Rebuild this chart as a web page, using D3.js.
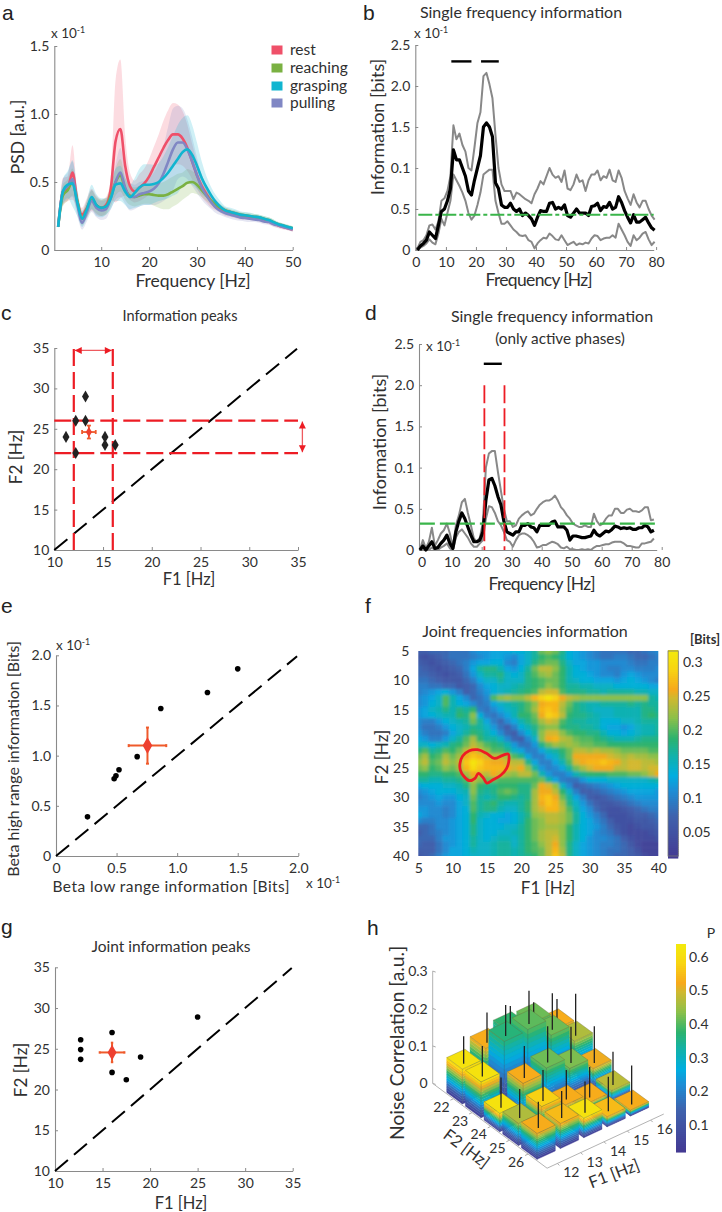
<!DOCTYPE html>
<html><head><meta charset="utf-8">
<style>html,body{margin:0;padding:0;background:#fff}svg{display:block}text{font-family:Lato,"Noto Sans",sans-serif;fill:#303030}</style>
<script src="https://cdn.jsdelivr.net/npm/d3@7"></script></head><body><script>
// ---------- data ----------
const psdHz=d3.range(1,51);
const psdRest=[.17,.43,.45,.57,.36,.26,.31,.37,.33,.31,.33,.45,.8,.89,.62,.47,.43,.46,.49,.54,.61,.68,.75,.81,.85,.85,.82,.75,.65,.55,.47,.41,.36,.33,.30,.28,.27,.26,.25,.245,.24,.235,.23,.22,.21,.195,.18,.17,.16,.15];
const psdReach=[.17,.40,.44,.50,.36,.23,.30,.37,.33,.31,.32,.40,.50,.55,.45,.40,.39,.40,.41,.41,.405,.40,.40,.41,.43,.45,.47,.495,.50,.48,.44,.40,.36,.33,.31,.29,.28,.27,.26,.255,.25,.245,.24,.23,.22,.205,.19,.18,.17,.16];
const psdGrasp=[.17,.43,.48,.49,.35,.23,.30,.39,.33,.31,.32,.38,.48,.49,.43,.39,.42,.46,.48,.48,.485,.50,.53,.57,.62,.67,.72,.74,.70,.62,.53,.46,.40,.35,.315,.29,.28,.27,.26,.255,.25,.245,.24,.23,.22,.205,.19,.18,.17,.16];
const psdPull=[.17,.43,.47,.52,.34,.20,.28,.36,.31,.29,.30,.38,.50,.57,.46,.39,.39,.41,.42,.43,.45,.49,.56,.65,.74,.79,.79,.74,.65,.55,.46,.40,.35,.31,.285,.27,.26,.25,.24,.235,.23,.225,.22,.21,.205,.19,.18,.17,.16,.15];
const sdRest=[.01,.1,.09,.2,.06,.05,.07,.08,.07,.06,.06,.08,.45,.51,.22,.1,.08,.1,.11,.13,.15,.17,.2,.22,.23,.22,.2,.17,.13,.1,.08,.06,.05,.04,.03,.03,.025,.025,.025,.02,.02,.02,.02,.02,.02,.02,.02,.02,.015,.015];
const sdReach=[.01,.08,.08,.1,.07,.05,.06,.07,.06,.06,.06,.08,.1,.12,.08,.07,.07,.07,.07,.07,.08,.09,.1,.11,.11,.11,.1,.1,.08,.07,.05,.04,.03,.03,.025,.02,.02,.02,.02,.02,.02,.02,.02,.02,.02,.02,.015,.015,.015,.015];
const sdGrasp=[.01,.09,.1,.17,.1,.06,.07,.09,.08,.07,.06,.08,.12,.13,.1,.09,.11,.14,.15,.15,.14,.14,.16,.19,.22,.25,.25,.25,.22,.17,.12,.08,.06,.05,.04,.03,.03,.03,.025,.025,.025,.02,.02,.02,.02,.02,.015,.015,.015,.015];
const sdPull=[.01,.09,.1,.13,.09,.05,.07,.08,.07,.07,.07,.08,.13,.18,.12,.1,.09,.09,.09,.1,.12,.15,.2,.26,.3,.27,.25,.22,.18,.13,.09,.07,.05,.04,.03,.03,.03,.03,.025,.025,.025,.02,.02,.02,.02,.02,.015,.015,.015,.015];
const psdNames=["rest","reaching","grasping","pulling"];
const psdColors=["#ef5069","#7ab142","#11b5d0","#8087c4"];

const infoHz=d3.range(.5,80.5);
const infoMean=[0,.05,.08,.12,.22,.18,.14,.3,.47,.5,.6,.75,1.22,1.1,1.1,1,.9,.72,.67,.85,1,1.15,1.5,1.55,1.5,1.38,.82,.75,.55,.52,.52,.57,.5,.47,.5,.42,.45,.42,.38,.3,.4,.48,.47,.47,.57,.58,.5,.52,.5,.55,.42,.4,.45,.5,.45,.45,.45,.42,.53,.54,.57,.48,.53,.52,.58,.5,.52,.65,.58,.48,.4,.33,.43,.34,.34,.37,.4,.33,.27,.24];
const infoUp=[.02,.1,.12,.18,.3,.31,.25,.35,.6,.63,.72,.9,1.52,1.35,1.42,1.28,1.2,1,.97,1.25,1.55,1.68,2.12,2.16,2.02,1.85,1.4,1,.8,.72,.72,.72,.62,.7,.68,.65,.62,.6,.57,.68,.75,.84,.8,.9,1,.92,.88,.9,.83,.97,.75,.73,.8,.92,.83,.85,.72,.85,.92,.92,.97,.85,.9,.88,.98,.85,.83,.97,.88,.72,.63,.55,.68,.58,.52,.6,.6,.5,.42,.37];
const infoLow=[0,.03,.05,.08,.13,.09,.07,.2,.38,.3,.45,.6,.92,.85,.78,.7,.6,.45,.37,.42,.55,.7,.92,.95,.98,.98,.6,.45,.32,.32,.35,.3,.25,.22,.18,.17,.18,.12,.1,.02,.08,.12,.15,.14,.2,.17,.13,.12,.18,.12,.06,.08,.1,.06,.08,.07,.09,.08,.14,.18,.17,.12,.14,.15,.15,.18,.15,.32,.25,.18,.1,.05,.18,.12,.15,.2,.22,.13,.06,.1];
const activeHz=d3.range(-.6,78.4);
const activeMean=[0,.05,0,.05,.1,.02,.03,.08,.12,.18,.08,.02,.22,.35,.45,.38,.28,.18,.1,.1,.12,.22,.6,.85,.87,.78,.65,.55,.35,.22,.2,.18,.22,.22,.3,.3,.32,.28,.27,.22,.3,.3,.3,.3,.34,.35,.28,.28,.28,.24,.12,.17,.17,.16,.15,.15,.16,.17,.24,.19,.17,.2,.23,.22,.25,.29,.28,.26,.27,.26,.27,.25,.25,.27,.27,.3,.28,.22,.24];
const activeUp=[0,.12,.02,.1,.27,.05,.12,.2,.24,.32,.2,.03,.3,.42,.58,.62,.45,.3,.14,.1,.15,.33,1,1.17,1.2,1.2,.95,.72,.5,.35,.35,.28,.3,.38,.42,.45,.47,.42,.44,.5,.55,.58,.6,.6,.62,.66,.6,.52,.48,.42,.38,.32,.3,.28,.28,.3,.28,.28,.44,.35,.3,.32,.38,.42,.42,.5,.5,.45,.45,.49,.5,.47,.47,.46,.48,.52,.52,.36,.37];
const activeLow=[0,.02,0,0,.03,0,0,.03,.05,.08,.02,0,.15,.22,.25,.2,.15,.08,.04,.04,.08,.12,.38,.53,.52,.45,.35,.3,.22,.12,.1,.04,.12,.18,.2,.2,.18,.15,.1,.03,.04,.06,.06,.08,.1,.09,.07,.03,.02,.04,.01,.01,0,0,.01,0,.01,0,.03,.05,.05,.06,.07,.07,.09,.1,.1,.1,.08,.05,.05,.04,.03,.03,.08,.08,.09,.1,.14];

const peakF1=[11.2,12.2,12.2,13.2,13.2,15.2,15.2,16.25];
const peakF2=[24,26,22,29,26,24,23,23];
const betaLow=[.26,.48,.495,.52,.67,.865,1.25,1.5];
const betaHigh=[.39,.77,.8,.86,.99,1.47,1.63,1.865];
const jointF1=[12.7,12.7,12.7,16,16,17.5,19,25];
const jointF2=[26.1,24.9,23.7,27,22.1,21.2,24,28.9];

const heatF1=d3.range(5,41), heatF2=d3.range(5,41);
const heatValues=[
[7,7,8,8,8,9,9,9,11,12,12,13,13,13,14,14,15,17,21,22,21,18,14,13,12,11,10,9,9,9,9,8,8,9,10,11],
[6,5,6,7,8,9,9,9,10,11,12,13,13,12,11,13,15,17,19,20,19,17,14,13,12,11,10,9,9,10,10,9,8,8,9,10],
[7,6,5,6,7,8,9,10,12,13,13,14,14,11,10,13,15,18,20,21,21,18,15,13,13,12,12,11,11,11,11,10,9,9,10,10],
[8,7,6,5,6,7,8,10,13,17,18,18,16,13,12,14,17,21,24,24,22,19,16,14,13,12,12,11,10,10,11,11,10,10,10,11],
[8,8,7,6,5,6,7,9,12,15,17,17,18,15,14,15,18,20,22,23,21,19,16,14,14,13,12,11,11,10,12,13,12,11,11,11],
[9,9,8,7,6,6,6,8,10,13,15,15,17,15,15,15,18,19,20,21,21,19,16,15,14,14,13,13,13,12,13,14,13,12,11,10],
[10,10,9,9,8,8,6,7,8,11,13,14,15,15,16,17,18,19,20,22,21,19,17,17,16,16,15,15,15,14,14,14,14,14,13,13],
[10,11,12,13,14,12,10,7,8,10,12,14,15,16,17,18,19,20,24,25,25,20,18,18,18,17,17,16,17,17,17,17,16,16,15,15],
[11,12,13,15,20,16,13,11,8,9,11,20,22,23,22,22,24,27,29,31,29,26,24,23,22,22,22,22,22,22,22,22,22,22,17,16],
[11,12,14,15,20,16,14,13,11,9,10,13,15,16,17,18,20,22,26,27,27,24,21,18,17,16,16,17,17,17,17,18,17,18,17,17],
[12,13,15,16,18,16,18,17,19,10,9,11,13,15,16,18,20,23,27,28,27,23,20,18,17,16,15,15,15,16,16,16,16,18,18,17],
[12,13,14,15,16,16,19,18,22,14,10,9,11,13,16,19,19,21,26,29,28,24,19,18,18,17,16,15,15,16,16,16,16,18,19,18],
[11,10,10,12,14,15,16,17,21,17,13,10,8,11,13,16,18,20,23,25,24,20,18,17,17,16,16,14,14,14,15,15,16,17,17,17],
[11,9,9,10,12,14,15,16,18,17,15,12,9,7,10,14,16,18,21,22,22,19,18,18,17,17,16,14,13,13,12,13,15,16,16,17],
[12,10,9,9,10,13,15,17,19,18,16,14,11,8,7,11,14,17,22,25,25,22,20,19,19,18,18,16,14,14,13,14,15,16,16,17],
[13,12,10,10,12,15,17,20,23,19,17,17,15,11,8,7,11,15,22,26,27,24,23,21,20,20,19,18,17,16,16,16,17,18,18,18],
[15,15,14,15,16,18,19,21,24,22,20,19,18,16,12,9,9,12,18,21,23,22,23,22,21,21,20,20,19,19,19,19,19,19,19,19],
[18,20,17,18,20,19,21,24,26,24,22,20,20,18,15,13,10,10,13,16,17,19,21,24,24,23,24,23,23,22,21,21,21,21,20,20],
[21,23,19,20,23,21,23,26,28,27,25,24,24,23,20,18,13,10,10,13,15,18,21,26,26,26,26,26,25,24,23,24,23,23,22,22],
[22,24,20,21,24,22,24,28,31,29,27,26,26,25,24,24,18,13,10,10,13,16,20,25,26,27,27,28,27,26,24,25,25,24,24,23],
[21,22,19,20,22,21,23,27,30,28,27,27,27,26,25,26,22,17,12,10,11,13,17,21,23,25,26,26,26,24,24,25,25,24,25,25],
[19,19,18,18,19,19,20,23,26,25,24,26,25,23,22,24,24,21,16,12,10,10,12,16,18,19,19,19,20,20,20,21,21,22,24,26],
[17,17,16,16,17,17,18,20,24,22,21,21,20,20,20,20,20,20,21,17,13,10,9,9,12,14,14,14,15,15,15,15,15,15,16,17],
[13,14,14,14,15,15,16,18,22,19,18,18,19,19,19,18,18,21,26,25,22,15,11,7,8,9,10,11,12,13,14,14,14,14,14,14],
[11,12,13,14,14,14,15,16,22,18,17,18,20,21,20,18,18,23,26,26,24,19,15,10,7,7,8,9,10,11,12,13,13,13,13,12],
[10,11,12,13,12,12,14,15,21,17,16,17,19,19,18,17,18,23,27,28,26,21,17,13,10,7,6,7,8,9,10,11,12,12,12,12],
[11,11,11,12,11,11,13,15,20,17,18,19,17,16,16,17,19,23,26,28,27,23,18,15,12,9,7,6,6,7,8,9,10,11,11,11],
[12,12,11,11,10,11,13,14,20,17,18,18,16,15,15,17,19,23,25,27,27,24,20,16,13,11,8,6,5,5,6,7,8,9,10,10],
[13,12,11,11,10,11,13,14,19,16,15,14,14,13,14,16,18,22,23,24,24,23,21,17,14,12,10,8,5,5,5,6,7,7,8,9],
[11,10,10,11,11,12,13,14,19,15,14,14,13,13,14,16,19,21,22,24,24,23,21,17,14,13,11,9,7,5,5,5,6,6,7,8],
[8,8,9,11,11,12,13,14,18,15,14,14,14,15,15,17,19,21,22,23,23,22,19,16,14,13,12,10,8,6,5,4,5,6,6,7],
[7,8,9,10,11,12,13,14,18,15,14,14,15,15,16,17,19,21,23,24,24,22,19,16,14,13,11,10,9,7,5,4,4,4,5,6],
[8,8,8,10,12,12,13,14,17,15,14,15,16,16,15,17,19,21,23,24,25,22,19,16,14,12,11,11,10,9,7,5,4,4,4,5],
[8,7,7,9,11,12,13,14,17,15,15,16,17,17,15,17,19,20,22,24,26,22,18,15,13,12,11,10,10,9,8,6,4,3,3,3],
[7,7,7,9,11,13,13,14,16,15,15,16,17,17,16,17,19,20,21,24,27,23,18,15,13,12,11,10,9,9,8,7,5,3,3,3],
[6,7,8,10,12,13,13,14,15,15,15,16,17,17,16,17,18,19,21,24,28,24,18,15,13,12,11,10,9,8,8,7,6,4,3,3]];
const contourF1=[11.08,11.47,12.44,13.65,14.87,16.08,17.3,18.13,18.22,17.88,17.06,15.84,14.99,14.53,13.75,13.26,12.44,11.61,11.13];
const contourF2=[24.18,22.93,22.02,21.85,22.42,23.33,22.81,22.59,23.61,25.03,26.17,27.03,27.54,26.74,25.89,26.74,27.14,26.34,25.32];
const cmapStops=[0,.2,.33,.4,.5,.58,.68,.78,.82,.92,1];
const cmapColors=["#443a93","#3f62ad","#1c8fd6","#00aee0","#13b2a8","#2cb36f","#8cc04a","#d2b82f","#f7a91c","#f8d512","#f3e80c"];

const noiseF1=[12,13,14,15,16], noiseF2=[22,23,24,25,26];
const noiseHeight=[[.093,.12,.135,.13,.085],[.096,.175,.178,.134,.089],[.049,.10,.112,.082,.053],[.059,.075,.05,.027,.031],[.069,.067,.052,.027,.016]];
const noiseP=[[.62,.53,.38,.42,.53],[.62,.37,.41,.42,.47],[.62,.53,.42,.43,.52],[.47,.58,.53,.53,.48],[.53,.55,.62,.55,.53]];
const noiseErr=[[.061,.069,.042,.028,.053],[.069,.071,.077,.085,.1],[.069,.073,.085,.085,.086],[.065,.071,.067,.069,.077],[.058,.06,.071,.08,.092]];

// ---------- helpers ----------
const svg=d3.select("body").append("svg").attr("width",722).attr("height",1212);
const AX="#8a8a8a",TXT="#303030",RED="#ed1c24",ORG="#ef5a2b";
function T(s,x,y,size,o={}){
  const t=svg.append("text").attr("x",x).attr("y",y).attr("font-size",size).attr("text-anchor",o.anchor||"middle");
  if(o.weight)t.attr("font-weight",o.weight);
  if(o.len)t.attr("textLength",o.len);
  if(o.rot!==undefined)t.attr("transform",`rotate(${o.rot} ${x} ${y})`);
  t.text(s);return t;
}
function L(s,x,y){ // panel letter
  svg.append("text").attr("x",x).attr("y",y).attr("font-size",21).style("font-family","'Liberation Sans'").style("fill","#222").text(s);
}
function sci(x,y,size=13.5){
  const t=svg.append("text").attr("x",x).attr("y",y).attr("font-size",size);
  t.append("tspan").text("x 10");
  t.append("tspan").attr("dy",-5).attr("font-size",size*.65).text("-1");
}
function axes(x,y,xt,yt,xf,yf,size=13.5,pad=7){
  const fx=d=>xf?xf(d):d, fy=d=>yf?yf(d):d;
  const gx=svg.append("g").attr("transform",`translate(0,${y.range()[0]})`)
    .call(d3.axisBottom(x).tickValues(xt).tickFormat(fx).tickSizeInner(-3).tickSizeOuter(0).tickPadding(pad));
  const gy=svg.append("g").attr("transform",`translate(${x.range()[0]},0)`)
    .call(d3.axisLeft(y).tickValues(yt).tickFormat(fy).tickSizeInner(-3).tickSizeOuter(0).tickPadding(5));
  [gx,gy].forEach(g=>{
    g.selectAll("path").attr("stroke",AX).attr("stroke-width",1.1);
    g.selectAll("line").attr("stroke",AX);
    g.selectAll("text").attr("font-size",size).attr("font-family","Lato").attr("fill",TXT);
  });
  return [gx,gy];
}
const fmt1=d=>d===0?"0":d3.format(".1f")(d);
function errMark(x,y,cx,cy,ex,ey,r,cap,w=1.8){
  const g=svg.append("g").attr("stroke",ORG).attr("stroke-width",w);
  g.append("line").attr("x1",x(cx-ex)).attr("x2",x(cx+ex)).attr("y1",y(cy)).attr("y2",y(cy));
  g.append("line").attr("x1",x(cx)).attr("x2",x(cx)).attr("y1",y(cy-ey)).attr("y2",y(cy+ey));
  [[cx-ex,cy,0,cap],[cx+ex,cy,0,cap],[cx,cy-ey,cap,0],[cx,cy+ey,cap,0]].forEach(c=>
    g.append("line").attr("x1",x(c[0])-c[2]).attr("x2",x(c[0])+c[2]).attr("y1",y(c[1])-c[3]).attr("y2",y(c[1])+c[3]));
  svg.append("path").attr("d",d3.symbol(d3.symbolDiamond,r)()).attr("fill","#ee4030")
    .attr("transform",`translate(${x(cx)},${y(cy)})`);
}
function diag(x,y,a,b){
  svg.append("line").attr("x1",x(a)).attr("y1",y(a)).attr("x2",x(b)).attr("y2",y(b))
    .attr("stroke","#000").attr("stroke-width",2).attr("stroke-dasharray","17 8");
}
const cmap=d3.scaleLinear().domain(cmapStops).range(cmapColors).clamp(true);
function colorbar(x0,x1,y0,y1,ticks,lo,hi,fmt,lab,size=14){
  const s=d3.scaleLinear().domain([lo,hi]).range([y0,y1]);
  const vals=d3.range(0,1.0001,1/100);
  svg.append("g").selectAll("rect").data(vals).join("rect")
    .attr("x",x0).attr("width",x1-x0)
    .attr("y",d=>y0+(y1-y0)*(d)-1).attr("height",Math.abs(y1-y0)/100+1.5)
    .attr("fill",d=>cmap(d));
  ticks.forEach(t=>T(fmt(t),lab,s(t)+5,size,{anchor:"start"}));
  return s;
}

// ---------- a ----------
{
  const x=d3.scaleLinear().domain([.2,50]).range([54.3,292.7]);
  const y=d3.scaleLinear().domain([0,1.5]).range([250,46]);
  const rows=[[psdRest,sdRest,0],[psdReach,sdReach,1],[psdPull,sdPull,3],[psdGrasp,sdGrasp,2]];
  const area=(m,s)=>d3.area().x((d,i)=>x(psdHz[i])).y0((d,i)=>y(Math.max(0,m[i]-s[i]))).y1((d,i)=>y(m[i]+s[i])).curve(d3.curveMonotoneX)(m);
  rows.forEach(r=>svg.append("path").attr("d",area(r[0],r[1])).attr("fill",psdColors[r[2]]).attr("fill-opacity",.2));
  axes(x,y,[10,20,30,40,50],[0,.5,1,1.5],null,fmt1,14);
  const line=m=>d3.line().x((d,i)=>x(psdHz[i])).y(d=>y(d)).curve(d3.curveMonotoneX)(m);
  rows.forEach(r=>svg.append("path").attr("d",line(r[0])).attr("fill","none").attr("stroke",psdColors[r[2]]).attr("stroke-width",2.6));
  psdNames.forEach((n,i)=>{
    const ly=[50,68,86,103][i];
    svg.append("rect").attr("x",271.5).attr("y",ly-4.5).attr("width",11).attr("height",9).attr("fill",psdColors[i]);
    T(n,290,ly+5,15.5,{anchor:"start"});
  });
  sci(51,38);
  T("Frequency [Hz]",193,287,17.5,{len:115});
  T("PSD [a.u.]",24,137,17.5,{rot:-90});
  L("a",2,19.5);
}
// ---------- b ----------
function infoPanel(o){
  const x=o.x,y=o.y;
  axes(x,y,d3.range(0,81,10),[0,.5,1,1.5,2,2.5],null,d=>({0:"0",.5:"0.5",1:"0.1",1.5:"1.5",2:"2.0",2.5:"2.5"})[d],14);
  const line=m=>d3.line().x((d,i)=>x(o.hz[i])).y(d=>y(d))(m);
  [o.up,o.low].forEach(m=>svg.append("path").attr("d",line(m)).attr("fill","none").attr("stroke","#888").attr("stroke-width",2).attr("stroke-linejoin","round"));
  svg.append("path").attr("d",line(o.mean)).attr("fill","none").attr("stroke","#000").attr("stroke-width",3.2).attr("stroke-linejoin","round");
  svg.append("line").attr("x1",x(o.g0)).attr("x2",x(o.g1)).attr("y1",y(o.gy)).attr("y2",y(o.gy))
    .attr("stroke","#3ab54a").attr("stroke-width",2.2).attr("stroke-dasharray",o.gd);
  o.bars.forEach(b=>svg.append("line").attr("x1",x(b[0])).attr("x2",x(b[1])).attr("y1",y(o.by)).attr("y2",y(o.by)).attr("stroke","#000").attr("stroke-width",2.4));
}
infoPanel({x:d3.scaleLinear().domain([-.2,79.2]).range([415.3,653.7]),y:d3.scaleLinear().domain([0,2.5]).range([250,45]),
  hz:infoHz,mean:infoMean,up:infoUp,low:infoLow,g0:.8,g1:79.2,gy:.43,gd:"14 3 4 3",by:2.3,bars:[[11.8,18.5],[21.7,27.6]]});
sci(414,38);
T("Single frequency information",521,18,16);
T("Frequency [Hz]",539,286,17.5,{len:107});
T("Information [bits]",384,127,18,{rot:-90});
L("b",363,19.5);
// ---------- c ----------
{
  const x=d3.scaleLinear().domain([10,35]).range([54.3,298]);
  const y=d3.scaleLinear().domain([10,35]).range([550,348]);
  axes(x,y,[10,15,20,25,30,35],[10,15,20,25,30,35],null,null,14);
  diag(x,y,10,34.9);
  const rd=svg.append("g").attr("stroke",RED).attr("stroke-width",2.2).attr("stroke-dasharray","17 6");
  [12,16].forEach(v=>rd.append("line").attr("x1",x(v)).attr("x2",x(v)).attr("y1",y(10)).attr("y2",y(34.9)));
  [26,22].forEach(v=>rd.append("line").attr("x1",x(10)).attr("x2",x(35)).attr("y1",y(v)).attr("y2",y(v)));
  svg.append("g").selectAll("path").data(peakF1).join("path").attr("d",d3.symbol(d3.symbolDiamond,42)())
    .attr("fill","#222").attr("transform",(d,i)=>`translate(${x(d)},${y(peakF2[i])})`);
  errMark(x,y,13.55,24.6,.7,.8,32,2);
  const arrow=(x1,y1,x2,y2)=>{
    svg.append("line").attr("x1",x1).attr("y1",y1).attr("x2",x2).attr("y2",y2).attr("stroke","#ee5a5f").attr("stroke-width",1.3);
    const a=Math.atan2(y2-y1,x2-x1)*180/Math.PI;
    [[x1,y1,a+180],[x2,y2,a]].forEach(p=>svg.append("path").attr("d","M0,0L-7,-3.5L-7,3.5Z").attr("fill",RED).attr("transform",`translate(${p[0]},${p[1]}) rotate(${p[2]})`));
  };
  arrow(x(12.1),y(34.7),x(15.9),y(34.7));
  arrow(x(35.45),y(25.9),x(35.45),y(22.1));
  T("Information peaks",180,321,14.5);
  T("F1 [Hz]",189,585,16.5);
  T("F2 [Hz]",22,457,17,{rot:-90});
  L("c",1,320);
}
// ---------- d ----------
{
  const x=d3.scaleLinear().domain([-.89,78.33]).range([419,656.7]);
  const y=d3.scaleLinear().domain([0,2.5]).range([550,344]);
  infoPanel({x,y,hz:activeHz,mean:activeMean,up:activeUp,low:activeLow,g0:-.6,g1:78.33,gy:.32,gd:"15 5",by:2.26,bars:[[20.7,26.7]]});
  const rd=svg.append("g").attr("stroke",RED).attr("stroke-width",1.8).attr("stroke-dasharray","18 5");
  [20.9,27.6].forEach(v=>rd.append("line").attr("x1",x(v)).attr("x2",x(v)).attr("y1",y(2)).attr("y2",y(0)));
  sci(426,351);
  T("Single frequency information",552,322,16);
  T("(only active phases)",560,344,15.3);
  T("Frequency [Hz]",542,590,17.5,{len:107});
  T("Information [bits]",386,442,18,{rot:-90});
  L("d",365,320);
}
// ---------- e ----------
{
  const x=d3.scaleLinear().domain([0,2]).range([56,298.3]);
  const y=d3.scaleLinear().domain([0,2]).range([856,655.3]);
  axes(x,y,[0,.5,1,1.5,2],[0,.5,1,1.5,2],fmt1,fmt1,14);
  diag(x,y,0,1.99);
  svg.append("g").selectAll("circle").data(betaLow).join("circle").attr("cx",d=>x(d)).attr("cy",(d,i)=>y(betaHigh[i])).attr("r",2.8).attr("fill","#000");
  errMark(x,y,.755,1.1,.155,.18,80,1.5,2);
  sci(56,650);sci(306,888);
  T("Beta low range information [Bits]",171,892,15.5,{len:237});
  T("Beta high range information [Bits]",19,759,16,{rot:-90});
  L("e",1,613);
}
// ---------- f ----------
{
  const x=d3.scaleLinear().domain([5,40]).range([418.3,658.3]);
  const y=d3.scaleLinear().domain([5,40]).range([651,856]);
  const frac=d3.scaleLinear().domain([.015,.316]).range([0,1]);
  const defs=svg.append("defs");
  defs.append("clipPath").attr("id","hc").append("rect").attr("x",x(5)).attr("y",y(5)).attr("width",x(40)-x(5)).attr("height",y(40)-y(5));
  defs.append("filter").attr("id","hb").attr("x","-10%").attr("y","-10%").attr("width","120%").attr("height","120%")
    .append("feGaussianBlur").attr("stdDeviation",1.8);
  const dx=(x(6)-x(5))/2, dy=(y(6)-y(5))/2, ext=14;
  const inner=svg.append("g").attr("clip-path","url(#hc)").append("g").attr("filter","url(#hb)");
  heatValues.forEach((row,ri)=>row.forEach((v,ci)=>{
    const l=x(heatF1[ci])-dx-(ci===0?ext:0), r=x(heatF1[ci])+dx+(ci===35?ext:0)+.5;
    const t=y(heatF2[ri])-dy-(ri===0?ext:0), b=y(heatF2[ri])+dy+(ri===35?ext:0)+.5;
    inner.append("rect").attr("x",l).attr("y",t).attr("width",r-l).attr("height",b-t).attr("fill",cmap(frac(v/100)));
  }));
  svg.append("path").attr("d",d3.line().x(d=>x(d)).y((d,i)=>y(contourF2[i])).curve(d3.curveCatmullRomClosed.alpha(.5))(contourF1))
    .attr("fill","none").attr("stroke",RED).attr("stroke-width",2.8);
  const gx=svg.append("g").attr("transform",`translate(0,856)`).call(d3.axisBottom(x).tickValues(d3.range(5,41,5)).tickSize(0).tickPadding(7));
  const gy=svg.append("g").attr("transform",`translate(418.3,0)`).call(d3.axisLeft(y).tickValues(d3.range(5,41,5)).tickSize(0).tickPadding(9));
  [gx,gy].forEach(g=>{g.select("path").remove();g.selectAll("text").attr("font-size",14).attr("font-family","Lato").attr("fill",TXT);});
  colorbar(668,678.3,856,651,[.05,.1,.15,.2,.25,.3],.015,.316,d=>d+"",683);
  svg.append("rect").attr("x",668).attr("y",651).attr("width",10.3).attr("height",205).attr("fill","none").attr("stroke","#777").attr("stroke-width",.8);
  T("Joint frequencies information",525,637,16);
  T("[Bits]",705,644,13,{weight:700});
  T("F1 [Hz]",548,894,17);
  T("F2 [Hz]",388,757,17,{rot:-90});
  L("f",365,613);
}
// ---------- g ----------
{
  const x=d3.scaleLinear().domain([10,35]).range([55,292.7]);
  const y=d3.scaleLinear().domain([10,35]).range([1171,967.3]);
  axes(x,y,[10,15,20,25,30,35],[10,15,20,25,30,35],null,null,14);
  diag(x,y,10,34.9);
  svg.append("g").selectAll("circle").data(jointF1).join("circle").attr("cx",d=>x(d)).attr("cy",(d,i)=>y(jointF2[i])).attr("r",2.8).attr("fill","#000");
  errMark(x,y,16,24.55,1.3,1.2,70,1.2,2);
  T("Joint information peaks",171,952,15.5);
  T("F1 [Hz]",181,1209,16.5);
  T("F2 [Hz]",27,1070,17,{rot:-90});
  L("g",1,934);
}
// ---------- h ----------
{
  const ux=d3.scaleLinear().domain([12,16]).range([0,93.33]), uy=d3.scaleLinear().domain([12,16]).range([0,-43.33]);
  const vx=d3.scaleLinear().domain([26,22]).range([0,-74.67]), vy=d3.scaleLinear().domain([26,22]).range([0,-55.33]);
  const zs=d3.scaleLinear().domain([0,.3]).range([0,-112.33]);
  const P=(a,b,z=0)=>[538.33+ux(a)+vx(b),1149.33+uy(a)+vy(b)+zs(z)];
  const pts=a=>a.map(p=>p.join(",")).join(" ");
  const g=svg.append("g");
  const O=P(11.56,20.89),F=P(11.56,27.02),R=P(16.56,27.02);
  const axs=[[O,F],[F,R],[O,[O[0],zs(.3)+O[1]]]];
  axs.forEach(a=>g.append("line").attr("x1",a[0][0]).attr("y1",a[0][1]).attr("x2",a[1][0]).attr("y2",a[1][1]).attr("stroke","#aaa").attr("stroke-width",.9));
  [0,.1,.2,.3].forEach(t=>{
    g.append("line").attr("x1",O[0]).attr("x2",O[0]+3).attr("y1",O[1]+zs(t)).attr("y2",O[1]+zs(t)+1).attr("stroke","#aaa");
    T(t===0?"0":t.toFixed(1),O[0]-5,O[1]+zs(t)+5,14,{anchor:"end"});
  });
  noiseF2.forEach(b=>{const p=P(11.56,b);g.append("line").attr("x1",p[0]).attr("y1",p[1]).attr("x2",p[0]-3).attr("y2",p[1]+1.4).attr("stroke","#aaa");
    T(b,p[0]-12,p[1]+13,14);});
  noiseF1.forEach(a=>{const p=P(a,27.02);g.append("line").attr("x1",p[0]).attr("y1",p[1]).attr("x2",p[0]+2).attr("y2",p[1]+2).attr("stroke","#aaa");
    T(a,p[0]+14,p[1]+14,14);});
  const hv=.39,hu=.42,lo=.03,pFrac=d3.scaleLinear().domain([.025,.635]).range([0,1]);
  const cells=[];
  noiseF2.forEach((b,j)=>noiseF1.forEach((a,i)=>cells.push({a,b,h:noiseHeight[j][i],p:noiseP[j][i],e:noiseErr[j][i]})));
  cells.sort((m,n)=>(m.b-n.b)||(n.a-m.a));
  cells.forEach(c=>{
    const N=14,A=c.a,B=c.b;
    const Le=[A-hv,B-hu],Fr=[A-hv,B+hu],Ri=[A+hv,B+hu],Bk=[A+hv,B-hu];
    d3.range(N).forEach(k=>{
      const z0=c.h*k/N,z1=c.h*(k+1)/N,col=cmap(pFrac(lo+(c.p-lo)*(k+.5)/N));
      [[Le,Fr],[Fr,Ri]].forEach(f=>{
        g.append("polygon").attr("points",pts([P(f[0][0],f[0][1],z0),P(f[1][0],f[1][1],z0),P(f[1][0],f[1][1],z1),P(f[0][0],f[0][1],z1)]))
          .attr("fill",col).attr("stroke",col).attr("stroke-width",.4);
      });
    });
    g.append("polygon").attr("points",pts([Le,Fr,Ri,Bk].map(q=>P(q[0],q[1],c.h)))).attr("fill",cmap(pFrac(c.p))).attr("stroke","#6b6b3a").attr("stroke-width",.5).attr("stroke-opacity",.7);
    const p0=P(Fr[0],Fr[1],0),p1=P(Fr[0],Fr[1],c.h);
    g.append("line").attr("x1",p0[0]).attr("y1",p0[1]).attr("x2",p1[0]).attr("y2",p1[1]).attr("stroke","#555").attr("stroke-width",.5).attr("stroke-opacity",.5);
    const t=P(A,B,c.h+c.e),u=P(A,B,c.h-.012);
    g.append("line").attr("x1",t[0]).attr("y1",t[1]).attr("x2",u[0]).attr("y2",u[1]).attr("stroke","#222").attr("stroke-width",1.3);
  });
  colorbar(676,686,1150,945,[.1,.2,.3,.4,.5,.6],.025,.635,d=>d+"",689);
  T("P",711,938,14);
  T("Noise Correlation [a.u.]",404,1043,19.3,{rot:-90});
  T("F2 [Hz]",463,1153,16.5,{rot:37});
  T("F1 [Hz]",616,1179,16.5,{rot:-21});
  L("h",367,935);
}
</script></body></html>
